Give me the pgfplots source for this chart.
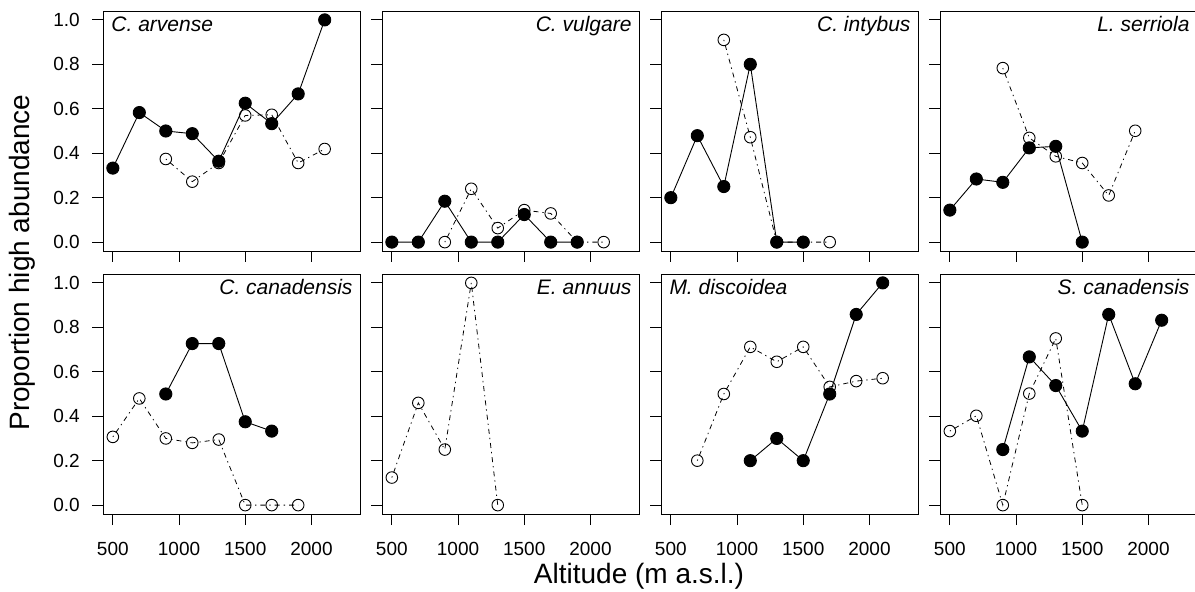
\documentclass[border=0pt]{standalone}
\usepackage{fontspec}
\setmainfont{Liberation Sans}
\usepackage{pgfplots}
\pgfplotsset{compat=1.18}
\pgfplotsset{
  panel/.style={scale only axis, width=257.4pt, height=240pt, anchor=south west,
    xmin=428, xmax=2372, ymin=-0.04, ymax=1.04,
    xtick={500,1000,1500,2000}, ytick={0,0.2,0.4,0.6,0.8,1},
    xticklabels={}, yticklabels={},
    tick align=outside, tick pos=left, major tick length=11pt,
    clip=false, axis line style={line width=0.9pt},
    every tick/.style={black, line width=0.9pt},
    tick label style={font=\fontsize{19}{22}\selectfont},
    xticklabel style={yshift=-14pt},
    yticklabel style={xshift=-9pt},
    /pgf/number format/assume math mode=true},
  ylab/.style={yticklabels={0.0,0.2,0.4,0.6,0.8,1.0}},
  xlab/.style={xticklabels={500,1000,1500,2000}},
  filled/.style={black, line width=0.9pt, mark=*, mark size=6.1pt, mark options={solid, fill=black}},
  open/.style={black, line width=0.8pt, dash pattern=on 1.3pt off 4pt on 5pt off 4pt, mark=o, mark size=5.8pt, mark options={solid, line width=0.9pt}},
}
\newcommand{\tl}[1]{\node[anchor=base west, inner sep=0pt, font=\fontsize{21}{25}\selectfont\itshape] at (rel axis cs:0,1) [xshift=8pt, yshift=-21pt] {#1};}
\newcommand{\tr}[1]{\node[anchor=base east, inner sep=0pt, font=\fontsize{21}{25}\selectfont\itshape] at (rel axis cs:1,1) [xshift=-8pt, yshift=-21pt] {#1};}
\begin{document}
\begin{tikzpicture}
\path[use as bounding box] (0,0) rectangle (1195pt,592pt);
% ---- top row ----
\begin{axis}[panel, ylab, at={(103.3pt,341pt)}]
\addplot[filled] coordinates {(500,0.333)(700,0.583)(900,0.5)(1100,0.488)(1300,0.364)(1500,0.625)(1700,0.533)(1900,0.667)(2100,1.0)};
\addplot[open] coordinates {(900,0.374)(1100,0.272)(1300,0.356)(1500,0.570)(1700,0.573)(1900,0.356)(2100,0.419)};
\tl{C. arvense}
\end{axis}
\begin{axis}[panel, at={(382.3pt,341pt)}]
\addplot[filled] coordinates {(500,0)(700,0)(900,0.184)(1100,0)(1300,0)(1500,0.124)(1700,0)(1900,0)};
\addplot[open] coordinates {(900,0)(1100,0.24)(1300,0.063)(1500,0.144)(1700,0.129)(1900,0)(2100,0)};
\tr{C. vulgare}
\end{axis}
\begin{axis}[panel, at={(661.3pt,341pt)}]
\addplot[filled] coordinates {(500,0.2)(700,0.479)(900,0.25)(1100,0.8)(1300,0)(1500,0)};
\addplot[open] coordinates {(900,0.91)(1100,0.472)(1300,0)(1500,0)(1700,0)};
\tr{C. intybus}
\end{axis}
\begin{axis}[panel, at={(940.3pt,341pt)}]
\addplot[filled] coordinates {(500,0.144)(700,0.284)(900,0.269)(1100,0.424)(1300,0.431)(1500,0)};
\addplot[open] coordinates {(900,0.783)(1100,0.469)(1300,0.386)(1500,0.356)(1700,0.21)(1900,0.501)};
\tr{L. serriola}
\end{axis}
% ---- bottom row ----
\begin{axis}[panel, ylab, xlab, at={(103.3pt,78pt)}]
\addplot[filled] coordinates {(900,0.5)(1100,0.727)(1300,0.727)(1500,0.375)(1700,0.333)};
\addplot[open] coordinates {(500,0.307)(700,0.48)(900,0.3)(1100,0.28)(1300,0.295)(1500,0)(1700,0)(1900,0)};
\tr{C. canadensis}
\end{axis}
\begin{axis}[panel, xlab, at={(382.3pt,78pt)}]
\addplot[open] coordinates {(500,0.124)(700,0.46)(900,0.25)(1100,1.0)(1300,0)};
\tr{E. annuus}
\end{axis}
\begin{axis}[panel, xlab, at={(661.3pt,78pt)}]
\addplot[filled] coordinates {(1100,0.2)(1300,0.3)(1500,0.2)(1700,0.5)(1900,0.858)(2100,1.0)};
\addplot[open] coordinates {(700,0.2)(900,0.5)(1100,0.712)(1300,0.645)(1500,0.712)(1700,0.532)(1900,0.558)(2100,0.571)};
\tl{M. discoidea}
\end{axis}
\begin{axis}[panel, xlab, at={(940.3pt,78pt)}]
\addplot[filled] coordinates {(900,0.25)(1100,0.667)(1300,0.538)(1500,0.333)(1700,0.858)(1900,0.546)(2100,0.832)};
\addplot[open] coordinates {(500,0.333)(700,0.402)(900,0)(1100,0.502)(1300,0.75)(1500,0)};
\tr{S. canadensis}
\end{axis}
\node[rotate=90, font=\fontsize{28}{32}\selectfont] at (22pt,329.5pt) {Proportion high abundance};
\node[font=\fontsize{28}{32}\selectfont] at (639pt,16pt) {Altitude (m a.s.l.)};
\end{tikzpicture}
\end{document}
